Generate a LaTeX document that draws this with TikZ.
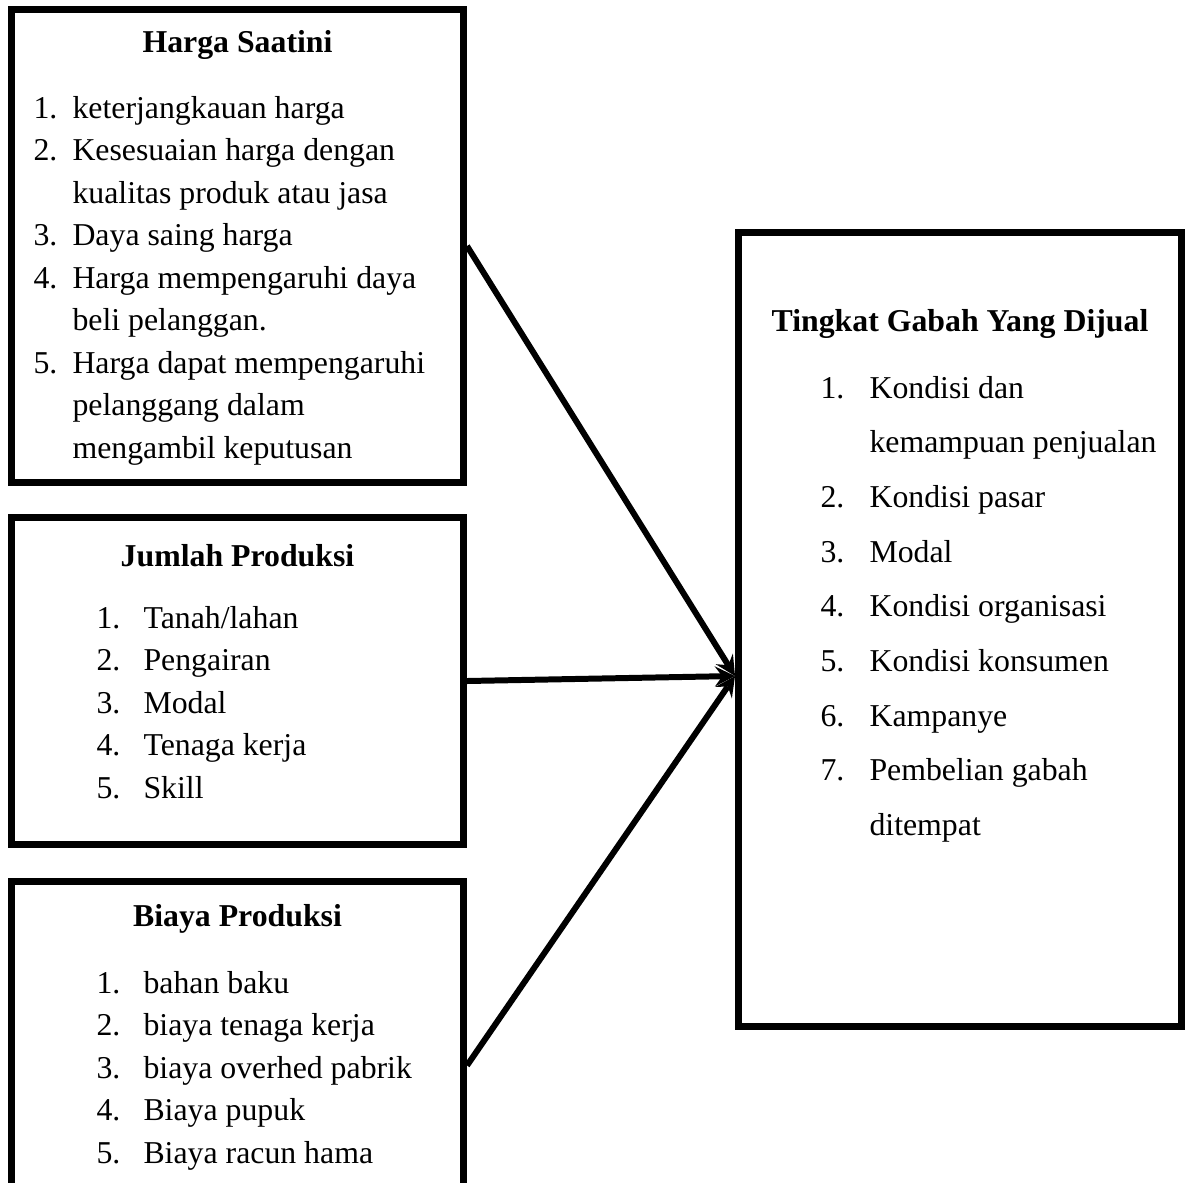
\documentclass[tikz,border=0pt]{standalone}
\usepackage{fontspec}
\setmainfont{Liberation Serif}
\usetikzlibrary{fit}

\tikzset{
	kotak/.style = {draw, line width = 2.64pt, inner sep = 0pt, fit = #1},
	judul/.style = {font = \fontsize{12}{14}\selectfont\bfseries, anchor = base, inner sep = 0pt},
	isi/.style = {font = \fontsize{12}{14}\selectfont, anchor = base west, inner sep = 0pt},
	panah/.style = {->, > = stealth, line width = 2.26pt}
}

\begin{document}
\begin{tikzpicture}[x = 0.37736pt, y = -0.37736pt]
	\useasboundingbox (0,0) rectangle (1186,1182);
	\clip (0,0) rectangle (1186,1182);
	\coordinate (a1) at (11.5,9.5);
	\coordinate (a2) at (463.5,482.5);
	\coordinate (b1) at (11.5,517.5);
	\coordinate (b2) at (463.5,844.5);
	\coordinate (c1) at (11.5,881);
	\coordinate (c2) at (463.5,1250);
	\coordinate (d1) at (738.5,232.5);
	\coordinate (d2) at (1181.5,1026.5);
	\node [kotak = (a1)(a2)] (harga) {};
	\node [kotak = (b1)(b2)] (jumlah) {};
	\node [kotak = (c1)(c2)] (biaya) {};
	\node [kotak = (d1)(d2)] (tingkat) {};

	\node [judul] (judulharga) at (237.5,52) {Harga Saatini};
	\foreach \n/\t [count = \i, evaluate = \i as \y using 118+42.5*(\i-1)] in
	{1./keterjangkauan harga, 2./Kesesuaian harga dengan, /kualitas produk atau jasa,
	 3./Daya saing harga, 4./Harga mempengaruhi daya, /beli pelanggan.,
	 5./Harga dapat mempengaruhi, /pelanggang dalam, /mengambil keputusan}
	{
	\node [isi] (hn\i) at (33,\y) {\n};
	\node [isi] (ht\i) at (72,\y) {\t};
	}

	\node [judul] (juduljumlah) at (237.5,566) {Jumlah Produksi};
	\foreach \t [count = \i, evaluate = \i as \y using 628+42.5*(\i-1)] in
	{{Tanah/lahan}, Pengairan, Modal, Tenaga kerja, Skill}
	{
	\node [isi] (jn\i) at (96,\y) {\i.};
	\node [isi] (jt\i) at (143,\y) {\t};
	}

	\node [judul] (judulbiaya) at (237.5,926) {Biaya Produksi};
	\foreach \t [count = \i, evaluate = \i as \y using 993+42.5*(\i-1)] in
	{bahan baku, biaya tenaga kerja, biaya overhed pabrik, Biaya pupuk, Biaya racun hama}
	{
	\node [isi] (bn\i) at (96,\y) {\i.};
	\node [isi] (bt\i) at (143,\y) {\t};
	}

	\node [judul] (judultingkat) at (960,331) {Tingkat Gabah Yang Dijual};
	\foreach \n/\t [count = \i, evaluate = \i as \y using 398+54.7*(\i-1)] in
	{1./Kondisi dan, /kemampuan penjualan, 2./Kondisi pasar, 3./Modal,
	 4./Kondisi organisasi, 5./Kondisi konsumen, 6./Kampanye,
	 7./Pembelian gabah, /ditempat}
	{
	\node [isi] (tn\i) at (820,\y) {\n};
	\node [isi] (tt\i) at (869,\y) {\t};
	}

	\coordinate (ujung) at (735,676);
	\draw [panah] (harga.east) -- (ujung);
	\draw [panah] (jumlah.east) -- (ujung);
	\draw [panah] (biaya.east) -- (ujung);
\end{tikzpicture}
\end{document}
